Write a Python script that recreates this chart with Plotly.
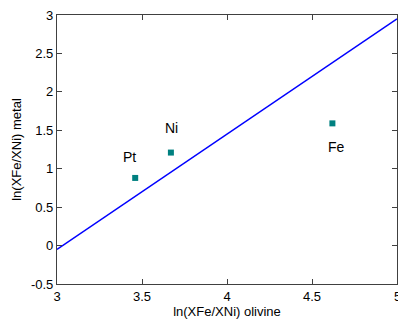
import plotly.graph_objects as go

# Element partition values
elements = ["Pt", "Ni", "Fe"]
ln_olivine = [3.46, 3.67, 4.62]
ln_metal = [0.88, 1.21, 1.59]
# label offsets in pixels (x, y) relative to each marker
label_dx = [-6, 1, 4]
label_dy = [21, 25, -24]

# Reference trend line
line_x = [3.0, 5.0]
line_y = [-0.05, 2.95]

fig = go.Figure()
fig.add_trace(go.Scatter(
    x=line_x, y=line_y, mode="lines",
    line=dict(color="#0000ff", width=1.5), hoverinfo="skip"))
fig.add_trace(go.Scatter(
    x=ln_olivine, y=ln_metal, mode="markers",
    marker=dict(symbol="square", size=6, color="#008080")))

for name, xv, yv, dx, dy in zip(elements, ln_olivine, ln_metal, label_dx, label_dy):
    fig.add_annotation(x=xv, y=yv, text=name, showarrow=False,
                       xshift=dx, yshift=dy,
                       font=dict(family="Liberation Sans, Arial", size=14, color="black"))

# last x tick label sits on the page edge
fig.add_annotation(x=5, y=0, xref="x", yref="paper", yanchor="top", yshift=-3,
                   text="5", showarrow=False,
                   font=dict(family="Liberation Sans, Arial", size=13, color="black"))

axis_common = dict(
    showgrid=False, zeroline=False, showline=True, mirror="ticks",
    linecolor="#404040", linewidth=1.2, ticks="inside", ticklen=5,
    tickcolor="#404040", tickfont=dict(size=13, color="black"))

fig.update_layout(
    width=398, height=322,
    margin=dict(l=57, r=1, t=15, b=38),
    plot_bgcolor="white", paper_bgcolor="white",
    showlegend=False,
    font=dict(family="Liberation Sans, Arial", color="black"),
    xaxis=dict(range=[3, 5], tickvals=[3, 3.5, 4, 4.5, 5],
               ticktext=["3", "3.5", "4", "4.5", "5"],
               title=dict(text="ln(XFe/XNi) olivine", font=dict(size=13), standoff=2),
               **axis_common),
    yaxis=dict(range=[-0.5, 3], tickvals=[-0.5, 0, 0.5, 1, 1.5, 2, 2.5, 3],
               ticktext=["-0.5", "0", "0.5", "1", "1.5", "2", "2.5", "3"],
               title=dict(text="ln(XFe/XNi) metal", font=dict(size=13), standoff=6),
               **axis_common),
)

fig.write_html("out.html")
